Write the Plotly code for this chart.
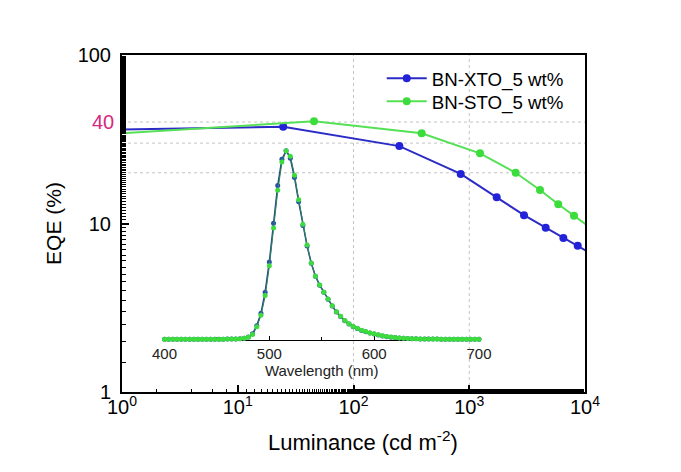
import math
import plotly.graph_objects as go

# ---- main EQE data ----
lum_xto = [0.8, 24.7, 249, 844, 1726, 2972, 4575, 6502, 8650, 11480]
eqe_xto = [36.1, 37.5, 28.8, 19.7, 14.3, 11.2, 9.44, 8.20, 7.38, 6.59]
lum_sto = [0.8, 45.6, 388, 1239, 2518, 4085, 5874, 8035, 11040]
eqe_sto = [34.0, 40.4, 34.3, 26.1, 20.0, 15.8, 13.0, 11.1, 9.47]

name_xto = "BN-XTO_5 wt%"
name_sto = "BN-STO_5 wt%"

# ---- inset EL spectrum data ----
wavelength = [400, 404, 408, 412, 416, 420, 424, 428, 432, 436,
              440, 444, 448, 452, 456, 460, 464, 468, 472, 476,
              480, 484, 488, 492, 496, 500, 504, 508, 512, 516,
              520, 524, 528, 532, 536, 540, 544, 548, 552, 556,
              560, 564, 568, 572, 576, 580, 584, 588, 592, 596,
              600, 604, 608, 612, 616, 620, 624, 628, 632, 636,
              640, 644, 648, 652, 656, 660, 664, 668, 672, 676,
              680, 684, 688, 692, 696, 700]
el_sto = [0, 0, 0, 0, 0, 0, 0, 0, 0, 0,
          0, 0, 0, 0, 0, 0.001, 0.001, 0.002, 0.003, 0.005,
          0.011, 0.026, 0.066, 0.128, 0.232, 0.390, 0.590, 0.790, 0.940, 1.000,
          0.970, 0.870, 0.740, 0.610, 0.500, 0.405, 0.335, 0.288, 0.250, 0.214,
          0.178, 0.146, 0.122, 0.100, 0.082, 0.068, 0.058, 0.048, 0.041, 0.034,
          0.029, 0.024, 0.019, 0.015, 0.012, 0.009, 0.007, 0.006, 0.004, 0.003,
          0.003, 0.002, 0.002, 0.001, 0.001, 0.001, 0, 0, 0, 0,
          0, 0, 0, 0, 0, 0]
el_xto = [0, 0, 0, 0, 0, 0, 0, 0, 0, 0,
          0, 0, 0, 0, 0, 0.001, 0.001, 0.002, 0.003, 0.006,
          0.012, 0.029, 0.072, 0.138, 0.250, 0.410, 0.615, 0.815, 0.955, 1.000,
          0.960, 0.858, 0.730, 0.603, 0.495, 0.403, 0.334, 0.287, 0.249, 0.213,
          0.177, 0.145, 0.121, 0.099, 0.081, 0.067, 0.057, 0.047, 0.040, 0.033,
          0.028, 0.023, 0.018, 0.014, 0.011, 0.009, 0.007, 0.006, 0.004, 0.003,
          0.003, 0.002, 0.002, 0.001, 0.001, 0.001, 0, 0, 0, 0,
          0, 0, 0, 0, 0, 0]

# ---- axis labels / guides ----
x_tickvals = [1, 10, 100, 1000, 10000]
x_ticktext = ["10<sup>0</sup>", "10<sup>1</sup>", "10<sup>2</sup>", "10<sup>3</sup>", "10<sup>4</sup>"]
y_tickvals = [1, 10, 100]
y_ticktext = ["1", "10", "100"]
y_highlight = 40
grid_y = [20, 30, 40]
grid_x = [100, 1000]
inset_ticks = [400, 500, 600, 700]
x_title = "Luminance (cd m<sup>-2</sup>)"
y_title = "EQE (%)"
inset_title = "Wavelength (nm)"

BLUE = "#2b2bc6"
BLUE_M = "#2222d8"
GREEN = "#55e055"
GREEN_M = "#3ddc3d"
FONT = "Liberation Sans, Arial, sans-serif"
GRID = "#c4c4c4"

fig = go.Figure()

# inset spectra
fig.add_trace(go.Scatter(x=wavelength, y=el_xto, mode="lines+markers", xaxis="x2", yaxis="y2",
                         line=dict(color="#1f3f8f", width=1.5),
                         marker=dict(color="#2a4cb0", size=5), showlegend=False, cliponaxis=False))
fig.add_trace(go.Scatter(x=wavelength, y=el_sto, mode="lines+markers", xaxis="x2", yaxis="y2",
                         line=dict(color="#2f7f60", width=1.2),
                         marker=dict(color=GREEN_M, size=5), showlegend=False, cliponaxis=False))

# main EQE curves
fig.add_trace(go.Scatter(x=lum_xto, y=eqe_xto, mode="lines+markers", name=name_xto,
                         line=dict(color=BLUE, width=2),
                         marker=dict(color=BLUE_M, size=8), legend="legend"))
fig.add_trace(go.Scatter(x=lum_sto, y=eqe_sto, mode="lines+markers", name=name_sto,
                         line=dict(color=GREEN, width=2),
                         marker=dict(color=GREEN_M, size=8), legend="legend2"))

shapes = []
for g in grid_y:
    shapes.append(dict(type="line", xref="paper", yref="y", x0=0, x1=1, y0=g, y1=g,
                       line=dict(color=GRID, width=1, dash="3px,3px"), layer="below"))
for g in grid_x:
    shapes.append(dict(type="line", xref="x", yref="paper", x0=g, x1=g, y0=0, y1=1,
                       line=dict(color=GRID, width=1, dash="3px,3px"), layer="below"))

legend_style = dict(xanchor="left", yanchor="middle", bgcolor="rgba(0,0,0,0)",
                    font=dict(size=18.7), itemwidth=40)

fig.update_layout(
    width=673, height=464,
    margin=dict(l=114, r=96, t=47, b=80),
    paper_bgcolor="white", plot_bgcolor="rgba(0,0,0,0)",
    font=dict(family=FONT, color="black"),
    shapes=shapes,
    xaxis=dict(type="log", range=[0, 4], showline=True, linecolor="black", linewidth=2,
               mirror=True, ticks="inside", ticklen=7, tickwidth=1.5, tickcolor="black",
               tickvals=x_tickvals, ticktext=x_ticktext, tickfont=dict(size=20),
               ticklabelstandoff=-4,
               showgrid=False, zeroline=False,
               minor=dict(ticks="inside", ticklen=3.5, tickwidth=1.2, tickcolor="black", showgrid=False)),
    yaxis=dict(type="log", range=[0, 2], showline=True, linecolor="black", linewidth=2,
               mirror=True, ticks="inside", ticklen=7, tickwidth=1.5, tickcolor="black",
               tickvals=y_tickvals, ticktext=y_ticktext, tickfont=dict(size=20),
               ticklabelstandoff=5,
               showgrid=False, zeroline=False,
               minor=dict(ticks="inside", ticklen=3.5, tickwidth=1.2, tickcolor="black", showgrid=False),
               title=dict(text=y_title, font=dict(size=21), standoff=10)),
    xaxis2=dict(domain=[0.0918, 0.771], range=[400, 700], anchor="y2",
                showline=True, linecolor="black", linewidth=1, layer="below traces",
                ticks="inside", ticklen=4, tickwidth=1, tickcolor="black",
                tickvals=inset_ticks, tickfont=dict(size=15, color="#222222"),
                minor=dict(ticks="inside", ticklen=3, tickwidth=1, tickcolor="black", dtick=50),
                showgrid=False, zeroline=False,
                title=dict(text=inset_title, font=dict(size=15, color="#222222"), standoff=1)),
    yaxis2=dict(domain=[0.1534, 0.716], range=[-0.0053, 1], anchor="x2", visible=False),
    legend=dict(x=0.561, y=0.930, **legend_style),
    legend2=dict(x=0.561, y=0.8614, **legend_style),
    annotations=[
        dict(xref="paper", yref="y", x=0, y=math.log10(y_highlight), text=str(y_highlight),
             showarrow=False, xanchor="right", xshift=-6,
             font=dict(size=20, color="#d6287e", family=FONT)),
        dict(xref="paper", yref="paper", x=0.5, y=0, text=x_title, showarrow=False,
             xanchor="center", yanchor="middle", xshift=9, yshift=-49,
             font=dict(size=22, color="black", family=FONT)),
    ],
)

fig.write_html("out.html")
